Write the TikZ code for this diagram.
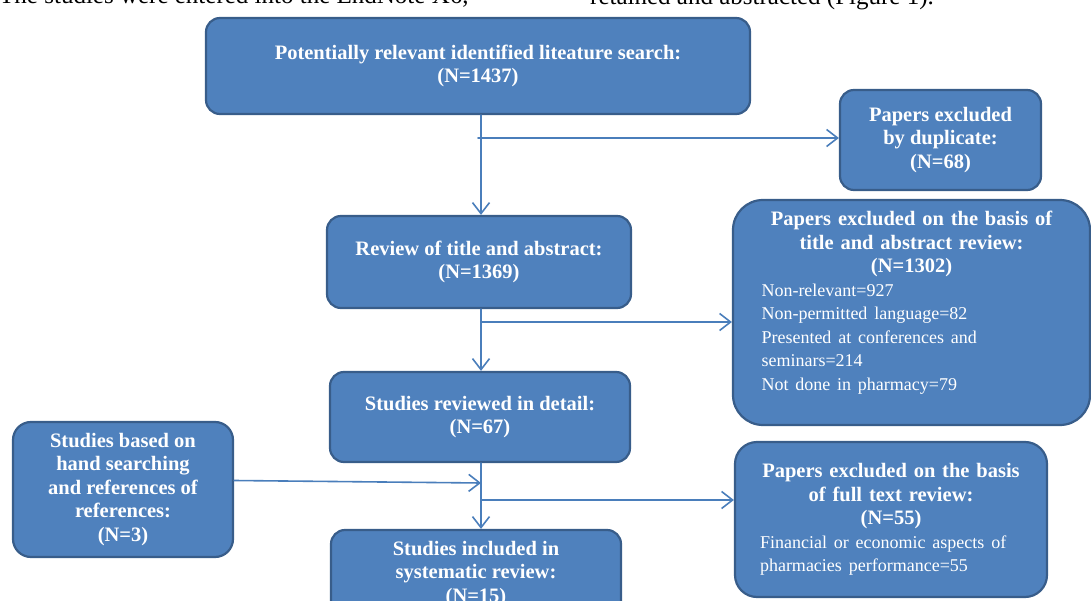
\documentclass[tikz,border=0pt]{standalone}
\usepackage{fontspec}
\setmainfont{Liberation Serif}
\usetikzlibrary{positioning, calc, arrows.meta}
\definecolor{boxfill}{HTML}{4F81BD}
\definecolor{boxline}{HTML}{385D8A}
\definecolor{flowline}{HTML}{4A7EBB}
\newcommand{\plaintext}{\fontsize{18}{23.5}\selectfont\mdseries}
\tikzset{
  stage/.style={rectangle, rounded corners=14pt, draw=boxline, fill=boxfill,
    line width=2.2pt, text=white, align=center, inner sep=0pt,
    font=\fontsize{20.5}{23.5}\selectfont\bfseries},
  flow/.style={draw=flowline, line width=1.6pt, line cap=round,
    -{Straight Barb[length=11pt,width=17pt]}},
  lead/.style={font=\fontsize{25}{28}\selectfont, inner sep=0pt}
}

\begin{document}
\begin{tikzpicture}[x=1pt, y=-1pt]
  \useasboundingbox (0,0) rectangle (1091,601);
  \clip (0,0) rectangle (1091,601);

  % running text, cut off at the top
  \node[lead, anchor=base west] (leadA) at (-1,4) {The studies were entered into the EndNote X6,};
  \node[lead, anchor=base west] (leadB) at (590,5) {retained and abstracted (Figure 1).};

  % main column
  \node[stage, minimum width=544, minimum height=96] (search) at (478,66)
    {Potentially relevant identified liteature search:\\(N=1437)};
  \node[stage, minimum width=304, minimum height=92] (screen) at (479,262)
    {Review of title and abstract:\\(N=1369)};
  \node[stage, minimum width=300, minimum height=90] (detail) at (480,417)
    {Studies reviewed in detail:\\(N=67)};
  \node[stage, minimum width=290, minimum height=88] (incl) at (476,574)
    {Studies included in\\systematic review:\\(N=15)};

  % side boxes
  \node[stage, minimum width=201, minimum height=100] (dup) at (940.5,140)
    {Papers excluded\\by duplicate:\\(N=68)};
  \node[stage, rounded corners=30pt, minimum width=357, minimum height=225,
    text width=300, align=left] (exclA) at (911.5,312.5)
    {{\centering Papers excluded on the basis of\\title and abstract review:\\(N=1302)\par}
     \raggedright\plaintext Non-relevant=927\\Non-permitted language=82\\
     Presented at conferences and\\seminars=214\\Not done in pharmacy=79\\\mbox{}};
  \node[stage, rounded corners=22pt, minimum width=312, minimum height=155,
    text width=262, align=left] (exclB) at (891,519.5)
    {{\centering Papers excluded on the basis\\of full text review:\\(N=55)\par}
     \raggedright\plaintext Financial or economic aspects of\\pharmacies performance=55};
  \node[stage, rounded corners=18pt, minimum width=220, minimum height=135] (hand) at (123,489.5)
    {Studies based on\\hand searching\\and references of\\references:\\(N=3)};

  % connectors
  \coordinate (spine) at (481,0);
  \coordinate (j1) at (481,138);
  \coordinate (j2) at (481,322);
  \coordinate (j3) at (481,483);
  \coordinate (j4) at (481,500);
  \draw[flow] (search.south -| spine) -- (screen.north -| spine);
  \draw[flow] ([xshift=-3pt]j1) -- (j1 -| dup.west);
  \draw[flow] (screen.south -| spine) -- (detail.north -| spine);
  \draw[flow] (j2) -- (j2 -| exclA.west);
  \draw[flow] (detail.south -| spine) -- (incl.north -| spine);
  \draw[flow] ([yshift=9pt]hand.east) -- (j3);
  \draw[flow] (j4) -- (j4 -| exclB.west);
\end{tikzpicture}
\end{document}
